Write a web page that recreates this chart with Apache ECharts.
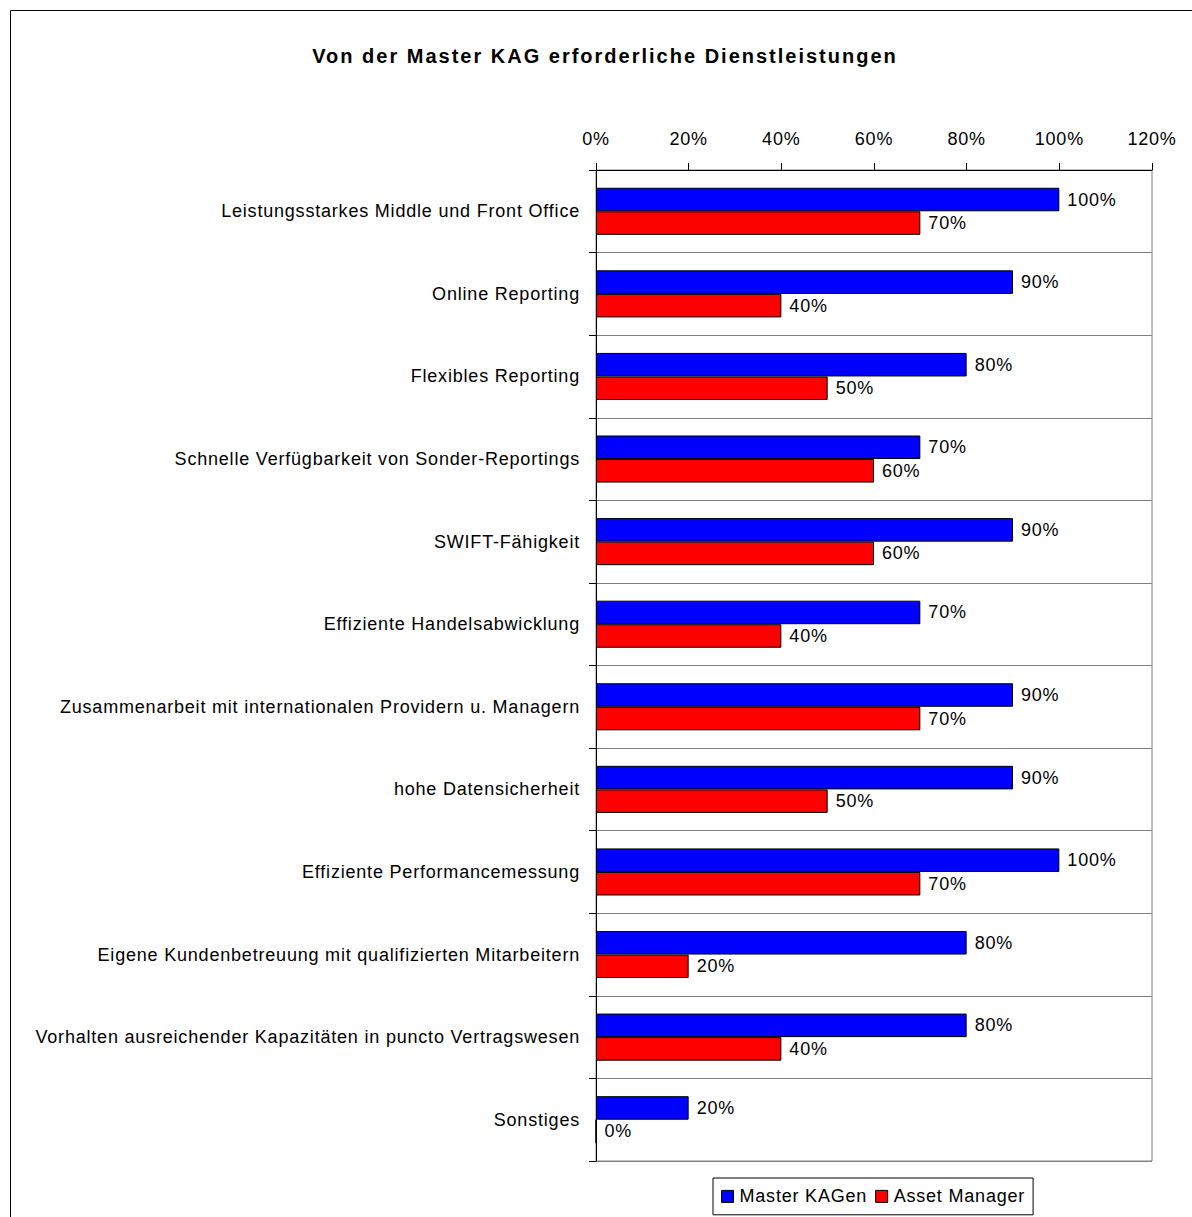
<!DOCTYPE html>
<html>
<head>
<meta charset="utf-8">
<script src="https://cdn.jsdelivr.net/npm/echarts@6/dist/echarts.min.js"></script>
<style>
  html, body { margin: 0; padding: 0; background: #fff; }
  #chart { width: 1192px; height: 1217px; }
  /* slightly tracked lettering, as in the original office chart */
  #chart svg { letter-spacing: 0.8px; }
  #chart svg text[style*="bold"] { letter-spacing: 2px; }
</style>
</head>
<body>
<div id="chart"></div>
<script>
// ---- data ----
const titleText = 'Von der Master KAG erforderliche Dienstleistungen';
const categories = [
  'Leistungsstarkes Middle und Front Office',
  'Online Reporting',
  'Flexibles Reporting',
  'Schnelle Verfügbarkeit von Sonder-Reportings',
  'SWIFT-Fähigkeit',
  'Effiziente Handelsabwicklung',
  'Zusammenarbeit mit internationalen Providern u. Managern',
  'hohe Datensicherheit',
  'Effiziente Performancemessung',
  'Eigene Kundenbetreuung mit qualifizierten Mitarbeitern',
  'Vorhalten ausreichender Kapazitäten in puncto Vertragswesen',
  'Sonstiges'
];
const seriesNames = ['Master KAGen', 'Asset Manager'];
const masterKAGen  = [100, 90, 80, 70, 90, 70, 90, 90, 100, 80, 80, 20];
const assetManager = [70, 40, 50, 60, 60, 40, 70, 50, 70, 20, 40, 0];
const axisMin = 0;
const axisMax = 120;
const axisStep = 20;

// ---- text measuring that accounts for the letter tracking ----
const measureCtx = document.createElement('canvas').getContext('2d');
echarts.setPlatformAPI({
  measureText(text, font) {
    measureCtx.font = font;
    measureCtx.letterSpacing = /bold/.test(font) ? '2px' : '0.8px';
    return measureCtx.measureText(text);
  }
});

const FONT = "'Liberation Sans', Arial, sans-serif";
const chart = echarts.init(document.getElementById('chart'), null, { renderer: 'svg' });

const barLabel = {
  show: true,
  position: 'right',
  distance: 8,
  formatter: '{c}%',
  fontFamily: FONT,
  fontSize: 18,
  color: '#000'
};

chart.setOption({
  animation: false,
  backgroundColor: '#fff',
  textStyle: { fontFamily: FONT },
  graphic: [{
    type: 'rect',
    silent: true,
    z: -10,
    shape: { x: 10.5, y: 10.5, width: 1400, height: 1400 },
    style: { fill: 'none', stroke: '#000', lineWidth: 1 }
  }],
  title: {
    text: titleText,
    left: 600,
    top: 40,
    textAlign: 'center',
    textStyle: { fontFamily: FONT, fontSize: 20, fontWeight: 'bold', color: '#000' }
  },
  legend: {
    data: seriesNames,
    left: 713,
    top: 1178,
    orient: 'horizontal',
    icon: 'rect',
    itemWidth: 12,
    itemHeight: 12,
    itemGap: 8,
    padding: [9, 8, 9, 8],
    borderColor: '#000',
    borderWidth: 1,
    backgroundColor: '#fff',
    itemStyle: { borderColor: '#000', borderWidth: 1 },
    textStyle: { fontFamily: FONT, fontSize: 18, color: '#000', padding: [0, 0, 0, 1] }
  },
  grid: {
    left: 596,
    top: 170,
    right: 40,
    bottom: 56,
    show: true,
    borderColor: '#808080',
    borderWidth: 1,
    backgroundColor: 'transparent'
  },
  xAxis: {
    type: 'value',
    position: 'top',
    min: axisMin,
    max: axisMax,
    interval: axisStep,
    axisLine: { show: true, lineStyle: { color: '#000', width: 1 } },
    axisTick: { show: true, length: 7, lineStyle: { color: '#000', width: 1 } },
    axisLabel: { formatter: '{value}%', margin: 22, fontFamily: FONT, fontSize: 18, color: '#000' },
    splitLine: { show: false }
  },
  yAxis: {
    type: 'category',
    inverse: true,
    data: categories,
    axisLine: { show: true, lineStyle: { color: '#000', width: 1 } },
    axisTick: { show: true, length: 7, alignWithLabel: false, lineStyle: { color: '#000', width: 1 } },
    axisLabel: { margin: 16, fontFamily: FONT, fontSize: 18, color: '#000' },
    splitLine: { show: true, lineStyle: { color: '#808080', width: 1 } }
  },
  series: [
    {
      name: seriesNames[0],
      type: 'bar',
      data: masterKAGen,
      barGap: '0%',
      barCategoryGap: '43%',
      itemStyle: { color: '#0000ff', borderColor: '#000', borderWidth: 1 },
      label: barLabel,
      emphasis: { disabled: true }
    },
    {
      name: seriesNames[1],
      type: 'bar',
      data: assetManager,
      barGap: '0%',
      barCategoryGap: '43%',
      itemStyle: { color: '#ff0000', borderColor: '#000', borderWidth: 1 },
      label: barLabel,
      emphasis: { disabled: true }
    }
  ]
});
</script>
</body>
</html>
